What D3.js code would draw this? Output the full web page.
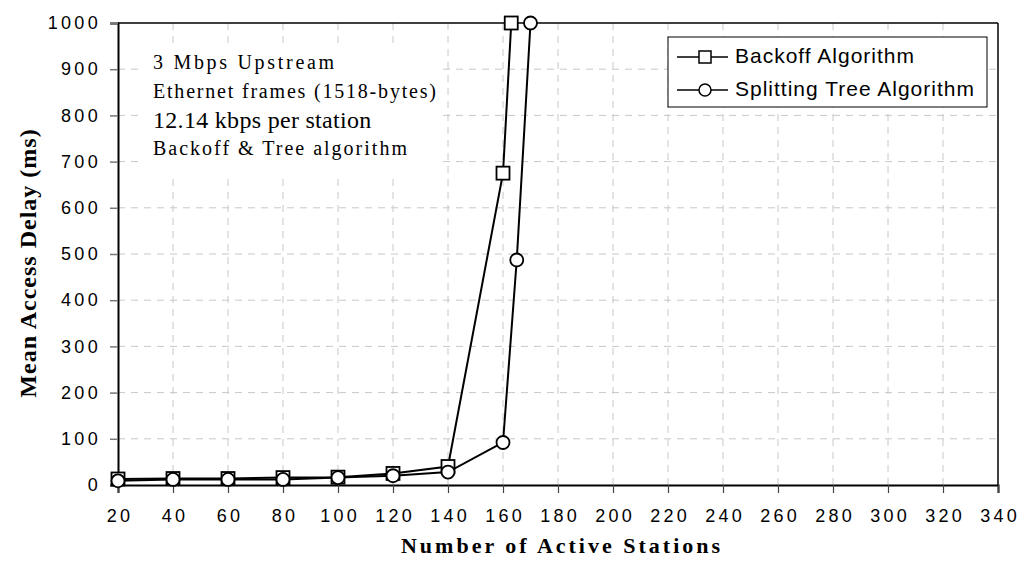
<!DOCTYPE html>
<html lang="en">
<head>
<meta charset="utf-8">
<title>Mean Access Delay</title>
<script src="https://cdnjs.cloudflare.com/ajax/libs/d3/7.7.0/d3.min.js"></script>
<style>
  body { margin: 0; background: #fff; }
  svg { display: block; }
</style>
</head>
<body>
<div id="chart"></div>
<script>
// data
const backoffX = [20, 40, 60, 80, 100, 120, 140, 160, 163];
const backoffY = [13, 14, 14, 16, 17, 25, 40, 675, 1000];
const treeX = [20, 40, 60, 80, 100, 120, 140, 160, 165, 170];
const treeY = [9, 12, 12, 12, 16, 20, 28, 92, 487, 1000];
const xTicks = d3.range(20, 341, 20);
const yTicks = d3.range(0, 1001, 100);
const notes = ["3 Mbps Upstream", "Ethernet frames (1518-bytes)", "12.14 kbps per station", "Backoff & Tree algorithm"];
const seriesNames = ["Backoff Algorithm", "Splitting Tree Algorithm"];

const w = 1025, h = 561;
const pLeft = 118, pRight = 998, pTop = 23, pBottom = 485;
const sans = "Liberation Sans, Arial, sans-serif";
const serif = "Liberation Serif, Times New Roman, serif";

const svg = d3.select("#chart").append("svg")
  .attr("width", w).attr("height", h);

const x = d3.scaleLinear().domain([20, 340]).range([pLeft, pRight]);
const y = d3.scaleLinear().domain([0, 1000]).range([pBottom, pTop]);

// grid
svg.append("g").selectAll("line").data(xTicks.slice(1, -1)).enter().append("line")
  .attr("x1", d => x(d)).attr("x2", d => x(d)).attr("y1", pTop).attr("y2", pBottom)
  .attr("stroke", "#c8c8c8").attr("stroke-dasharray", "7,6");
svg.append("g").selectAll("line").data(yTicks.slice(1, -1)).enter().append("line")
  .attr("x1", pLeft).attr("x2", pRight).attr("y1", d => y(d)).attr("y2", d => y(d))
  .attr("stroke", "#c8c8c8").attr("stroke-dasharray", "7,6");

// frame (top + right thin)
svg.append("line").attr("x1", pLeft).attr("x2", pRight).attr("y1", pTop).attr("y2", pTop)
  .attr("stroke", "#000").attr("stroke-width", 1.5);
svg.append("line").attr("x1", pRight).attr("x2", pRight).attr("y1", pTop).attr("y2", pBottom)
  .attr("stroke", "#000").attr("stroke-width", 1.5);

// axes
const xAxis = d3.axisBottom(x).tickValues(xTicks).tickFormat(d3.format("d")).tickSize(8).tickPadding(16);
const gx = svg.append("g").attr("transform", "translate(0," + pBottom + ")").call(xAxis);
gx.select(".domain").attr("stroke-width", 2);
gx.selectAll(".tick line").attr("stroke", "#444").attr("stroke-width", 1.2);
gx.selectAll("text").attr("font-family", sans).attr("font-size", 18)
  .attr("fill", "#000").attr("letter-spacing", 3.3).attr("dx", 1.6);

const yAxis = d3.axisLeft(y).tickValues(yTicks).tickFormat(d3.format("d")).tickSize(8).tickPadding(9);
const gy = svg.append("g").attr("transform", "translate(" + pLeft + ",0)").call(yAxis);
gy.select(".domain").attr("stroke-width", 2);
gy.selectAll(".tick line").attr("stroke", "#777").attr("stroke-width", 1.5);
gy.selectAll("text").attr("font-family", sans).attr("font-size", 18)
  .attr("fill", "#000").attr("letter-spacing", 3.3);

// axis titles
svg.append("text").attr("x", 562).attr("y", 553).attr("text-anchor", "middle")
  .attr("font-family", serif).attr("font-weight", "bold")
  .attr("font-size", 22).attr("letter-spacing", 3).text("Number of Active Stations");
svg.append("text").attr("transform", "translate(36,263) rotate(-90)").attr("text-anchor", "middle")
  .attr("font-family", serif).attr("font-weight", "bold")
  .attr("font-size", 24).attr("letter-spacing", 1).text("Mean Access Delay (ms)");

// annotation block
svg.append("rect").attr("x", 142).attr("y", 45).attr("width", 296).attr("height", 128).attr("fill", "#fff");
const noteY = [69, 98, 128, 155];
const noteSize = [20, 20, 24, 20];
const noteSpacing = [2.7, 1.8, 0.3, 2];
svg.append("g").selectAll("text").data(notes).enter().append("text")
  .attr("x", 153).attr("y", (d, i) => noteY[i])
  .attr("font-family", serif)
  .attr("font-size", (d, i) => noteSize[i]).attr("letter-spacing", (d, i) => noteSpacing[i])
  .text(d => d);

// lines
const line = d3.line().x(d => x(d[0])).y(d => y(d[1]));
const backoff = backoffX.map((v, i) => [v, backoffY[i]]);
const tree = treeX.map((v, i) => [v, treeY[i]]);

svg.append("path").datum(backoff).attr("d", line).attr("fill", "none")
  .attr("stroke", "#000").attr("stroke-width", 2);
svg.append("path").datum(tree).attr("d", line).attr("fill", "none")
  .attr("stroke", "#000").attr("stroke-width", 2);

svg.append("g").selectAll("rect").data(backoff).enter().append("rect")
  .attr("x", d => x(d[0]) - 6.5).attr("y", d => y(d[1]) - 6.5)
  .attr("width", 13).attr("height", 13)
  .attr("fill", "#fff").attr("stroke", "#000").attr("stroke-width", 1.8);
svg.append("g").selectAll("circle").data(tree).enter().append("circle")
  .attr("cx", d => x(d[0])).attr("cy", d => y(d[1])).attr("r", 6.5)
  .attr("fill", "#fff").attr("stroke", "#000").attr("stroke-width", 1.8);

// legend
const lg = svg.append("g").attr("transform", "translate(668,37)");
lg.append("rect").attr("width", 319).attr("height", 70)
  .attr("fill", "#fff").attr("stroke", "#000").attr("stroke-width", 1);
seriesNames.forEach((name, i) => {
  const cy = 20 + i * 33;
  lg.append("line").attr("x1", 9).attr("x2", 60).attr("y1", cy).attr("y2", cy)
    .attr("stroke", "#000").attr("stroke-width", 1.5);
  if (i === 0) {
    lg.append("rect").attr("x", 31).attr("y", cy - 6).attr("width", 12).attr("height", 12)
      .attr("fill", "#fff").attr("stroke", "#000").attr("stroke-width", 1.5);
  } else {
    lg.append("circle").attr("cx", 37).attr("cy", cy).attr("r", 6)
      .attr("fill", "#fff").attr("stroke", "#000").attr("stroke-width", 1.5);
  }
  lg.append("text").attr("x", 67).attr("y", cy + 6)
    .attr("font-family", sans).attr("font-size", 21)
    .attr("letter-spacing", 1).text(name);
});
</script>
</body>
</html>
